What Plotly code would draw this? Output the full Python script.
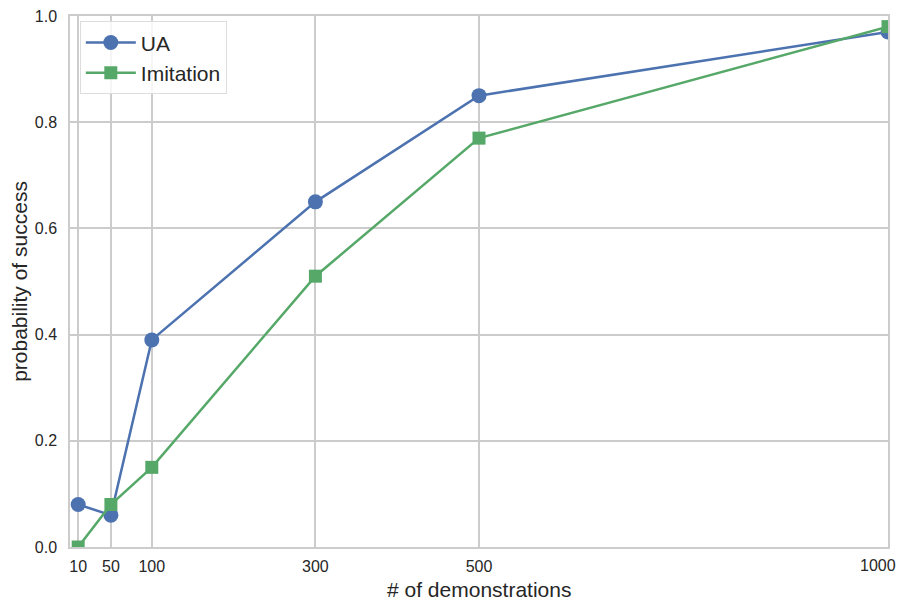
import plotly.graph_objects as go

demos = [10, 50, 100, 300, 500, 1000]
ua = [0.08, 0.06, 0.39, 0.65, 0.85, 0.97]
imitation = [0.0, 0.08, 0.15, 0.51, 0.77, 0.98]
x_ticks = [10, 50, 100, 300, 500, 1000]
y_ticks = [0.0, 0.2, 0.4, 0.6, 0.8, 1.0]

fig = go.Figure()
fig.add_trace(go.Scatter(x=demos, y=ua, mode="lines+markers", name="UA",
                         line=dict(color="#4C72B0", width=2.5),
                         marker=dict(symbol="circle", size=15, color="#4C72B0")))
fig.add_trace(go.Scatter(x=demos, y=imitation, mode="lines+markers", name="Imitation",
                         line=dict(color="#55A868", width=2.5),
                         marker=dict(symbol="square", size=13, color="#55A868")))

grid = "#cccccc"
# last x tick label drawn as annotation so it stays fully inside the visible page
tick_text = [str(v) for v in x_ticks[:-1]] + [""]
annotations = [
    dict(text=str(x_ticks[-1]), x=x_ticks[-1], y=0, xref="x", yref="paper",
         xanchor="right", yanchor="top", xshift=10, yshift=-8, showarrow=False,
         font=dict(size=16)),
    dict(text="# of demonstrations", x=0.5, y=0, xref="paper", yref="paper",
         xanchor="center", yanchor="top", yshift=-29, showarrow=False,
         font=dict(size=21)),
]

fig.update_layout(
    width=899, height=593,
    margin=dict(l=62, r=19, t=8, b=54, autoexpand=False),
    paper_bgcolor="white", plot_bgcolor="white",
    font=dict(family="Liberation Sans, Arial, sans-serif", color="#262626"),
    legend=dict(x=0.012, y=0.99, xanchor="left", yanchor="top",
                bgcolor="rgba(255,255,255,0.8)", bordercolor="#dddddd", borderwidth=1,
                font=dict(size=21), itemwidth=50, tracegroupgap=0),
    showlegend=True,
    annotations=annotations,
)
fig.update_xaxes(range=[0, 1000], tickvals=x_ticks, ticktext=tick_text,
                 showgrid=True, gridcolor=grid, gridwidth=1.5, zeroline=False,
                 showline=True, linecolor=grid, linewidth=1.5, mirror=True,
                 ticks="", tickfont=dict(size=16), ticklabelstandoff=4, automargin=False,
                 ticklabeloverflow="allow")
fig.update_yaxes(range=[0, 1.0], tickvals=y_ticks, ticktext=[f"{v:.1f}" for v in y_ticks],
                 showgrid=True, gridcolor=grid, gridwidth=1.5, zeroline=False,
                 showline=True, linecolor=grid, linewidth=1.5, mirror=True,
                 ticks="", tickfont=dict(size=16), ticklabelstandoff=8, automargin=False,
                 ticklabeloverflow="allow",
                 title=dict(text="probability of success", font=dict(size=21), standoff=8))

fig.write_html("out.html")
